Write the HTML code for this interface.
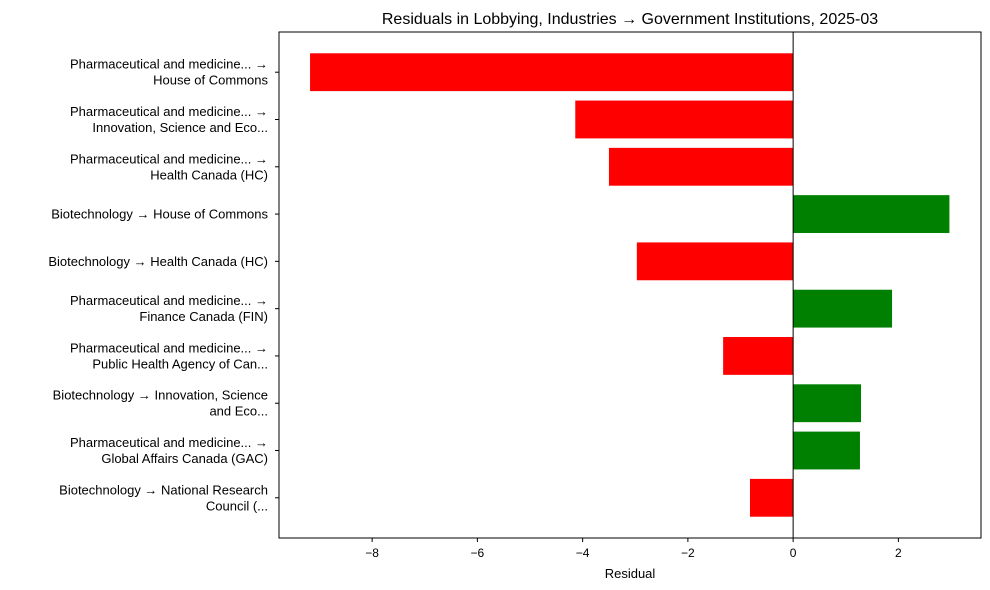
<!DOCTYPE html>
<html><head><meta charset="utf-8"><style>
body{margin:0;background:#fff;}
svg{display:block;font-family:"Liberation Sans","DejaVu Sans",sans-serif;}
</style></head><body>
<svg id="chart" width="990" height="590" viewBox="0 0 990 590">
<text x="630" y="24" text-anchor="middle" font-size="16" fill="#000">Residuals in Lobbying, Industries → Government Institutions, 2025-03</text>
<g id="plot"></g>
<rect x="279" y="32" width="702" height="506" fill="none" stroke="#000" stroke-width="1"/>
<text x="630" y="578" text-anchor="middle" font-size="13" fill="#000">Residual</text>
</svg>
<script>
const categories = [
 ["Pharmaceutical and medicine... →","House of Commons"],
 ["Pharmaceutical and medicine... →","Innovation, Science and Eco..."],
 ["Pharmaceutical and medicine... →","Health Canada (HC)"],
 ["Biotechnology → House of Commons"],
 ["Biotechnology → Health Canada (HC)"],
 ["Pharmaceutical and medicine... →","Finance Canada (FIN)"],
 ["Pharmaceutical and medicine... →","Public Health Agency of Can..."],
 ["Biotechnology → Innovation, Science","and Eco..."],
 ["Pharmaceutical and medicine... →","Global Affairs Canada (GAC)"],
 ["Biotechnology → National Research","Council (..."]
];
const residuals = [-9.18, -4.14, -3.50, 2.97, -2.97, 1.88, -1.33, 1.29, 1.27, -0.82];
const xTicks = [-8, -6, -4, -2, 0, 2];
const xTickLabels = ["−8","−6","−4","−2","0","2"];

const NS = "http://www.w3.org/2000/svg";
const g = document.getElementById('plot');
const X0 = 279, X1 = 981, Y0 = 32, Y1 = 538;
const xmin = -9.77, xmax = 3.57;
const xs = v => X0 + (v - xmin) / (xmax - xmin) * (X1 - X0);
const n = categories.length;
const ymin = -0.5 - 0.35, ymax = n - 0.5 + 0.35;
const ys = i => Y0 + (i - ymin) / (ymax - ymin) * (Y1 - Y0);
const bandPx = (Y1 - Y0) / (ymax - ymin);
function mk(tag, attrs){const e=document.createElementNS(NS,tag);for(const k in attrs)e.setAttribute(k,attrs[k]);g.appendChild(e);return e;}

residuals.forEach((v,i)=>{
  const x = Math.min(xs(0), xs(v)), w = Math.abs(xs(v)-xs(0));
  const r = mk('rect',{x:x,y:ys(i)-bandPx*0.4,width:w,height:bandPx*0.8,fill:v<0?'#ff0000':'#008000'});
  
  
});
const zl = mk('line',{x1:xs(0),x2:xs(0),y1:Y0,y2:Y1,stroke:'#000','stroke-width':1});



categories.forEach((lines,i)=>{
  const c = ys(i);
  const t = mk('line',{x1:X0-4,x2:X0,y1:c,y2:c,stroke:'#000'});
  
  
  const tx = mk('text',{x:X0-11,'text-anchor':'end','font-size':13,fill:'#000'});
  
  
  const start = c + 4.5 - (lines.length-1)*8;
  lines.forEach((s,j)=>{
    const ts = document.createElementNS(NS,'tspan');
    ts.setAttribute('x', X0-11);
    ts.setAttribute('y', start + j*16);
    ts.textContent = s;
    tx.appendChild(ts);
  });
});
xTicks.forEach((v,i)=>{
  const t = mk('line',{x1:xs(v),x2:xs(v),y1:Y1,y2:Y1+4,stroke:'#000'});
  
  
  const l = mk('text',{x:xs(v),y:Y1+19,'text-anchor':'middle','font-size':12,fill:'#000'});
  
  
  l.textContent = xTickLabels[i];
});
</script>
</body></html>
